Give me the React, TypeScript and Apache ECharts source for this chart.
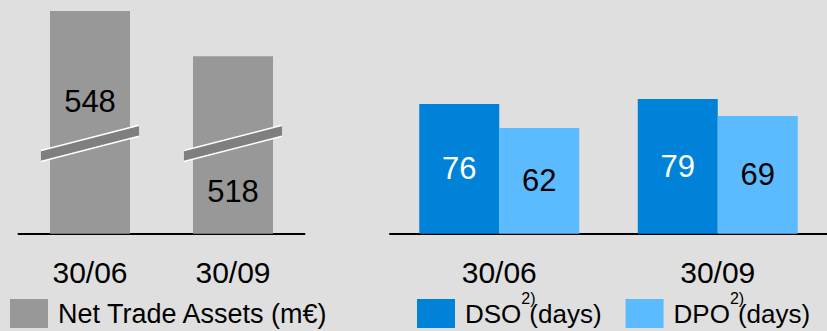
import { useEffect, useRef } from "react";
import * as echarts from "echarts";

// Period-end dates shown under both panels
const periods = ["30/06", "30/09"];

// Left panel: net trade assets in million euros
const netTradeAssets = [548, 518];

// Right panel: days sales outstanding / days payables outstanding
const dsoDays = [76, 79];
const dpoDays = [62, 69];

const ntaName = "Net Trade Assets (m€)";
const dsoName = "DSO (days)";
const dpoName = "DPO (days)";

// The left value axis is broken: only the part above this value is drawn
const ntaAxisMin = 400;
const ntaAxisMax = 548;
const ntaBreakAt = 460;
const daysAxisMax = 100;

// Vertical placement of the value labels inside the broken bars (px from bar top)
const ntaLabelOffsets = [90, 135];

const FONT = "'Liberation Sans', Arial, Helvetica, sans-serif";
const BG = "#dfdfdf";
const GREY = "#989898";
const BLUE = "#0082d8";
const LIGHT_BLUE = "#5cbaff";

// Legend texts of the right panel are 46px tall (room for the superscript),
// so that legend box starts 8.5px above its 29px swatches.
const SUP_LINE = 46;

export default function App() {
  const ref = useRef<HTMLDivElement>(null);

  useEffect(() => {
    document.body.style.margin = "0";
    const chart = echarts.init(ref.current!, null, { renderer: "svg" });

    const axisLine = { show: true, lineStyle: { color: "#000", width: 2 } };
    const catLabel = { fontSize: 30, color: "#000", margin: 24, fontFamily: FONT };

    const legendRich = {
      gap: { width: 5, fontSize: 26 },
      sup: { fontSize: 16, width: 8, verticalAlign: "top", padding: [0, 0, SUP_LINE - 16, 0] },
    };

    const option: any = {
      animation: false,
      backgroundColor: BG,
      textStyle: { fontFamily: FONT },
      grid: [
        { left: 18.5, width: 286, top: 11, height: 222.7 },
        { left: 390, width: 442, top: 63.2, height: 170.5 },
      ],
      xAxis: [
        {
          type: "category",
          gridIndex: 0,
          data: periods,
          axisLine,
          axisTick: { show: false },
          axisLabel: catLabel,
        },
        {
          type: "category",
          gridIndex: 1,
          data: periods,
          axisLine,
          axisTick: { show: false },
          axisLabel: catLabel,
        },
      ],
      yAxis: [
        {
          type: "value",
          gridIndex: 0,
          min: ntaAxisMin,
          max: ntaAxisMax,
          startValue: ntaAxisMin,
          show: false,
          splitLine: { show: false },
        },
        {
          type: "value",
          gridIndex: 1,
          min: 0,
          max: daysAxisMax,
          show: false,
          splitLine: { show: false },
        },
      ],
      legend: [
        {
          data: [ntaName],
          left: 10,
          top: 299,
          padding: 0,
          icon: "rect",
          itemWidth: 38,
          itemHeight: 29,
          selectedMode: false,
          formatter: (name: string) => "{gap| }" + name,
          textStyle: { fontSize: 27, color: "#000", fontFamily: FONT, rich: legendRich },
        },
        {
          data: [dsoName, dpoName],
          left: 417,
          top: 299 - (SUP_LINE - 29) / 2,
          padding: 0,
          icon: "rect",
          itemWidth: 38,
          itemHeight: 29,
          itemGap: 24,
          selectedMode: false,
          formatter: (name: string) => "{gap| }" + name.replace(" ", "{sup|2)}"),
          textStyle: { fontSize: 26, color: "#000", fontFamily: FONT, rich: legendRich },
        },
      ],
      series: [
        {
          name: ntaName,
          type: "bar",
          xAxisIndex: 0,
          yAxisIndex: 0,
          barWidth: 80,
          clip: true,
          itemStyle: { color: GREY },
          data: netTradeAssets.map((v, i) => ({
            value: v,
            label: { position: ["50%", ntaLabelOffsets[i]] },
          })),
          label: {
            show: true,
            align: "center",
            verticalAlign: "middle",
            fontSize: 31,
            color: "#000",
            fontFamily: FONT,
          },
        },
        {
          name: "axis break",
          type: "custom",
          xAxisIndex: 0,
          yAxisIndex: 0,
          z: 5,
          clip: false,
          silent: true,
          data: periods.map((_, i) => [i, ntaBreakAt]),
          encode: { x: 0, y: 1 },
          renderItem: (_params: any, api: any) => {
            const c = api.coord([api.value(0), api.value(1)]);
            const band = api.size([1, 0])[0];
            const hw = band * 0.343;
            const slope = 0.258;
            const half = 5.5;
            const xl = c[0] - hw;
            const xr = c[0] + hw;
            const yl = c[1] + slope * hw;
            const yr = c[1] - slope * hw;
            const edge = { stroke: "#ffffff", lineWidth: 1.6 };
            return {
              type: "group",
              children: [
                {
                  type: "polygon",
                  shape: {
                    points: [
                      [xl, yl - half],
                      [xr, yr - half],
                      [xr, yr + half],
                      [xl, yl + half],
                    ],
                  },
                  style: { fill: "#7f7f7f" },
                },
                { type: "line", shape: { x1: xl, y1: yl - half, x2: xr, y2: yr - half }, style: edge },
                { type: "line", shape: { x1: xl, y1: yl + half, x2: xr, y2: yr + half }, style: edge },
              ],
            };
          },
        },
        {
          name: dsoName,
          type: "bar",
          xAxisIndex: 1,
          yAxisIndex: 1,
          barWidth: 80,
          barGap: "0%",
          itemStyle: { color: BLUE },
          data: dsoDays,
          label: {
            show: true,
            position: "inside",
            fontSize: 31,
            color: "#ffffff",
            fontFamily: FONT,
          },
        },
        {
          name: dpoName,
          type: "bar",
          xAxisIndex: 1,
          yAxisIndex: 1,
          barWidth: 80,
          barGap: "0%",
          itemStyle: { color: LIGHT_BLUE },
          data: dpoDays,
          label: {
            show: true,
            position: "inside",
            fontSize: 31,
            color: "#000",
            fontFamily: FONT,
          },
        },
      ],
    };

    chart.setOption(option);
    return () => chart.dispose();
  }, []);

  return <div ref={ref} style={{ width: 827, height: 331, background: BG }} />;
}
